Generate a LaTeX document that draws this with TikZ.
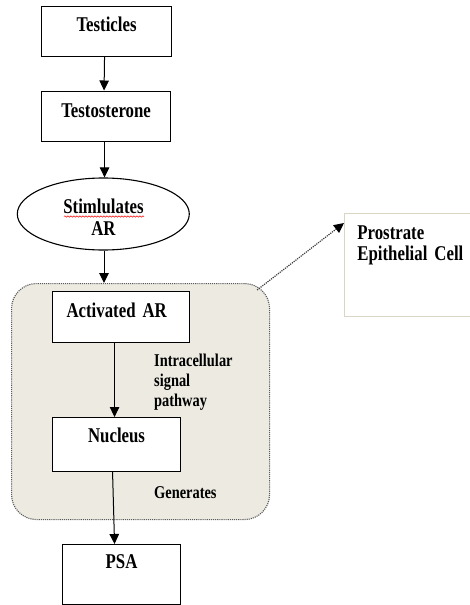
\documentclass[tikz,border=0pt]{standalone}
\usepackage{fontspec}
\setmainfont{Liberation Serif}[FakeStretch=0.8,WordSpace=0.7]
\usetikzlibrary{arrows.meta,shapes.geometric,decorations.pathmorphing}
\definecolor{cellfill}{HTML}{ECEAE1}
\definecolor{pecline}{HTML}{DAD6C6}
\begin{document}
\begin{tikzpicture}[x=1pt,y=-1pt,
  boxtext/.style={font=\fontsize{21}{22}\selectfont\bfseries},
  lbltext/.style={font=\fontsize{18}{20}\selectfont\bfseries, inner sep=0pt, align=left, anchor=base west},
  stepbox/.style={draw, line width=1.1pt, anchor=north west, inner ysep=0pt, inner xsep=0pt, boxtext},
  arr/.style={-{Triangle[length=10pt,width=9.5pt]}, line width=1pt},
]
\useasboundingbox (0,0) rectangle (470,605);

% container
\node[draw=black!65, densely dotted, line width=1.1pt, fill=cellfill, rounded corners=25pt,
      anchor=north west, minimum width=258pt, minimum height=236pt, inner sep=0pt] (cell) at (11,283) {};

% boxes
\node[stepbox, minimum width=130pt, text height=25pt, text depth=25pt] (testicles) at (41,5.5) {Testicles};
\node[stepbox, minimum width=129pt, text height=26pt, text depth=24pt] (testosterone) at (41,90.5) {Testosterone};
\node[draw, line width=1.1pt, ellipse, minimum width=172pt, minimum height=72pt, inner sep=0pt] (stim) at (103.3,214) {};
\node[boxtext, align=center, inner sep=0pt, anchor=base] (stimtext) at (103.5,235) {Stimlulates\\AR};
\draw[red, line width=0.5pt, decorate, decoration={snake, amplitude=0.7pt, segment length=3pt}] (64,216.5) -- (144,216.5);

\node[stepbox, fill=white, inner xsep=14pt, text width=109pt, align=left, text height=26pt, text depth=25pt] (actar) at (52,291) {Activated AR};
\node[stepbox, fill=white, minimum width=128pt, text height=25pt, text depth=29pt] (nucleus) at (52,417) {Nucleus};
\node[stepbox, fill=white, minimum width=118pt, text height=24pt, text depth=36pt] (psa) at (62,544) {PSA};

\node[draw=pecline, line width=0.8pt, anchor=north west, inner ysep=0pt, inner xsep=13pt, text width=106pt,
      align=left, text height=26pt, text depth=77pt, font=\fontsize{21}{21}\selectfont\bfseries] (pec) at (344,213) {Prostrate\\Epithelial Cell};

% labels
\node[lbltext] (lblsig) at (154,406) {Intracellular\\signal\\pathway};
\node[lbltext] (lblgen) at (154,498) {Generates};

% connectors
\draw[arr] ([xshift=-2pt]testicles.south) -- ([xshift=-2pt]testosterone.north);
\draw[arr] ([xshift=-1.5pt]testosterone.south) -- ([xshift=-1.5pt]testosterone.south |- stim.north);
\draw[arr] ([xshift=0.7pt]stim.south) -- ([xshift=0.7pt]stim.south |- cell.north);
\draw[arr] ([xshift=-6.5pt]actar.south) -- ([xshift=-2pt]nucleus.north);
\draw[arr] ([xshift=-4pt]nucleus.south) -- ([xshift=-7pt]psa.north);
\draw[black!75, densely dotted, line width=1.2pt, -{Triangle[length=10pt,width=9.5pt,color=black]}]
  ([xshift=-13pt,yshift=-7pt]cell.north east) -- ([yshift=-10pt]pec.north west);
\end{tikzpicture}
\end{document}
